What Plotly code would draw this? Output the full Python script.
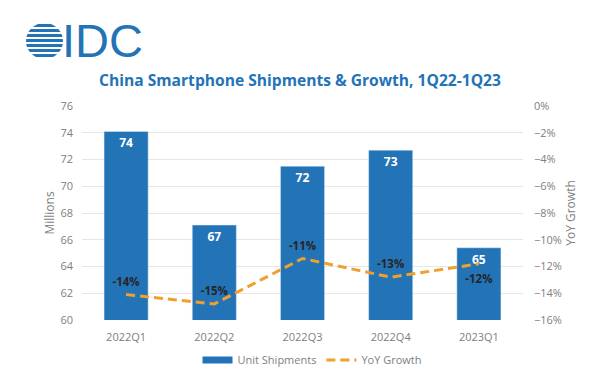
import base64
import plotly.graph_objects as go

quarters = ["2022Q1", "2022Q2", "2022Q3", "2022Q4", "2023Q1"]
shipments = [74.1, 67.1, 71.5, 72.7, 65.4]
shipment_labels = ["74", "67", "72", "73", "65"]
yoy_growth = [-14.1, -14.8, -11.4, -12.8, -11.8]
yoy_labels = ["-14%", "-15%", "-11%", "-13%", "-12%"]
yoy_text_pos = ["top center", "top center", "top center", "top center", "bottom center"]

BLUE = "#2373B7"
ORANGE = "#EFA02E"
GRAY = "#808080"
FONT = "Open Sans"

# plot area in pixels
W, H = 600, 379
L, R, T, B = 82, 77, 106, 59
PW, PH = W - L - R, H - T - B


def px_x(px):
    return (px - L) / PW


def px_y(py):
    return (H - B - py) / PH


fig = go.Figure()
fig.add_trace(go.Bar(
    x=quarters, y=shipments, name="Unit Shipments", marker_color=BLUE,
    text=shipment_labels, textposition="inside", insidetextanchor="end",
    textfont=dict(color="white", size=12, family=FONT, weight="bold"),
    showlegend=False, yaxis="y",
))
# legend proxy for the bar series (wide bar symbol as in the reference)
fig.add_trace(go.Scatter(
    x=[None], y=[None], mode="lines", name="Unit Shipments",
    line=dict(color=BLUE, width=7), yaxis="y",
))
fig.add_trace(go.Scatter(
    x=quarters, y=yoy_growth, name="YoY Growth", mode="lines+markers+text",
    line=dict(color=ORANGE, width=3, dash="9px,5px"),
    marker=dict(size=[8, 8, 8, 8, 16], color="rgba(0,0,0,0)",
                line=dict(width=0, color="rgba(0,0,0,0)")),
    text=yoy_labels, textposition=yoy_text_pos,
    textfont=dict(color="#262626", size=11.5, family=FONT, weight="bold"),
    yaxis="y2", cliponaxis=False,
))

# globe logo as svg
stripes = ""
for i in range(7):
    y0 = 1.0 + i * 5.0
    stripes += f'<rect x="0" y="{y0:.1f}" width="36" height="3" fill="{BLUE}"/>'
svg = (
    '<svg xmlns="http://www.w3.org/2000/svg" width="36" height="36" viewBox="0 0 36 36">'
    '<defs><clipPath id="c"><circle cx="18" cy="18" r="18"/></clipPath></defs>'
    f'<g clip-path="url(#c)">{stripes}</g></svg>'
)
svg_uri = "data:image/svg+xml;base64," + base64.b64encode(svg.encode()).decode()

fig.update_layout(
    width=W, height=H,
    margin=dict(l=L, r=R, t=T, b=B, autoexpand=False),
    paper_bgcolor="white", plot_bgcolor="white",
    font=dict(family=FONT, color=GRAY, size=11),
    title=dict(
        text="China Smartphone Shipments & Growth, 1Q22-1Q23",
        x=0.5, xanchor="center", y=1 - 81 / H, yanchor="middle",
        font=dict(family=FONT, size=15.6, color=BLUE, weight="bold"),
    ),
    bargap=0.5,
    xaxis=dict(showgrid=False, showline=False, ticks="", automargin=False,
               ticklabelstandoff=9, tickfont=dict(size=11, color=GRAY)),
    yaxis=dict(
        range=[60, 76], dtick=2, showgrid=True, gridcolor="#E6E6E6", gridwidth=1,
        zeroline=False, showline=False, ticks="", automargin=False,
        ticklabelstandoff=8, tickfont=dict(size=11, color=GRAY),
        title=dict(text="Millions", font=dict(size=12, color=GRAY), standoff=3),
    ),
    yaxis2=dict(
        range=[-16, 0], dtick=2, overlaying="y", side="right", showgrid=False,
        zeroline=False, showline=False, ticks="", ticksuffix="%", automargin=False,
        ticklabelstandoff=10, tickfont=dict(size=11, color=GRAY),
        title=dict(text="YoY Growth", font=dict(size=12, color=GRAY), standoff=3),
    ),
    legend=dict(
        orientation="h", x=px_x(312), xanchor="center", y=px_y(360), yanchor="middle",
        font=dict(size=11, color=GRAY), itemwidth=30,
    ),
    images=[dict(
        source=svg_uri, xref="paper", yref="paper",
        x=px_x(26), y=px_y(23), sizex=37 / PW, sizey=36 / PH,
        xanchor="left", yanchor="top", sizing="stretch", layer="above",
    )],
    annotations=[dict(
        text="IDC", xref="paper", yref="paper", x=px_x(60), y=px_y(41),
        xanchor="left", yanchor="middle", showarrow=False,
        font=dict(family="Liberation Sans", size=47, color=BLUE),
    )],
)

fig.write_html("out.html", config={"displayModeBar": False},
               post_script="document.body.style.margin='0px';")
